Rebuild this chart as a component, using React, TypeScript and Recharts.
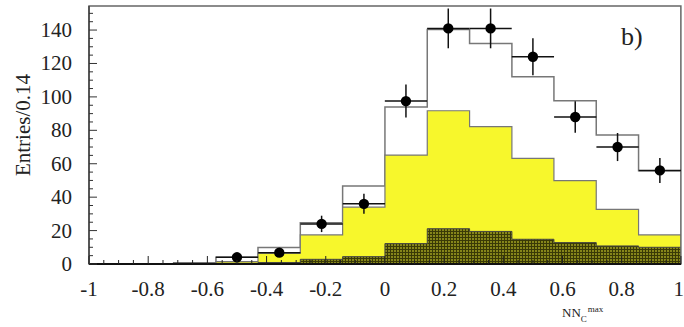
import { ComposedChart, Area, Scatter, ErrorBar, XAxis, YAxis, ReferenceArea } from "recharts";

// bin edges, width 2/14 = 0.143
const binEdges = [-1, -0.857, -0.714, -0.571, -0.429, -0.286, -0.143, 0, 0.143, 0.286, 0.429, 0.571, 0.714, 0.857, 1];
const totalMC = [0, 0, 0.8, 4.0, 9.8, 24.7, 46.7, 94, 140.4, 132, 112, 97.7, 77.2, 55.8];
const yellowMC = [0, 0, 0.4, 1.4, 6.5, 17.4, 34, 65.2, 91.7, 82.2, 63.2, 49.9, 32.7, 17.4];
const darkMC = [0, 0, 0.2, 0.4, 0.9, 2.8, 4.4, 12.2, 21.1, 19.5, 14.8, 12.8, 10.8, 10];

// data points
const dataX = [-0.5, -0.357, -0.214, -0.071, 0.071, 0.214, 0.357, 0.5, 0.643, 0.786, 0.929];
const dataY = [4, 6.8, 24, 36, 97.5, 141, 141, 124, 88, 70, 56];
const dataErrY = [2, 2.6, 4.9, 6, 9.9, 11.9, 11.9, 11.1, 9.4, 8.4, 7.5];
const dataErrX = [0.0714, 0.0714, 0.0714, 0.0714, 0.0714, 0.0714, 0.0714, 0.0714, 0.0714, 0.0714, 0.0714];

const xMajorLabels = ["-1", "-0.8", "-0.6", "-0.4", "-0.2", "0", "0.2", "0.4", "0.6", "0.8", "1"];
const yMajorLabels = ["0", "20", "40", "60", "80", "100", "120", "140"];

const Y_MAX = 154.4;
const FONT = "'Liberation Serif', 'Times New Roman', serif";

const xTicks = Array.from({ length: 41 }, (_, i) => +(-1 + i * 0.05).toFixed(2));
const yTicks = Array.from({ length: 31 }, (_, i) => i * 5);

const histData = binEdges.map((x, i) => {
  const k = Math.min(i, totalMC.length - 1);
  return { x, total: totalMC[k], yellow: yellowMC[k], dark: darkMC[k] };
});

const points = dataX.map((x, i) => ({ x, y: dataY[i], ey: dataErrY[i], ex: dataErrX[i] }));

function XTick(props: any) {
  const { x, y, payload } = props;
  const v = payload.value;
  const idx = Math.round((v + 1) * 5);
  const major = Math.abs((v + 1) * 5 - idx) < 1e-6;
  const last = idx === xMajorLabels.length - 1;
  return (
    <g>
      <line x1={x} x2={x} y1={y} y2={y - (major ? 8 : 4)} stroke="#222" strokeWidth={1} />
      {major && (
        <text x={last ? x + 3 : x} y={y + 32} textAnchor={last ? "end" : "middle"} fontFamily={FONT} fontSize={21} fill="#222">
          {xMajorLabels[idx]}
        </text>
      )}
    </g>
  );
}

function YTick(props: any) {
  const { x, y, payload } = props;
  const v = payload.value;
  const major = v % 20 === 0;
  return (
    <g>
      <line x1={x} x2={x + (major ? 8 : 4)} y1={y} y2={y} stroke="#333" strokeWidth={1} />
      {major && (
        <text x={x - 17} y={y + 7} textAnchor="end" fontFamily={FONT} fontSize={21} fill="#222">
          {yMajorLabels[v / 20]}
        </text>
      )}
    </g>
  );
}

export default function App() {
  return (
    <div style={{ position: "absolute", left: 0, top: 0, width: 684, height: 327, background: "#fff" }}>
      <ComposedChart width={684} height={327} data={histData} margin={{ top: 6, right: 3, bottom: 62, left: 88 }}>
        <defs>
          <pattern id="hatch" width="3" height="3" patternUnits="userSpaceOnUse">
            <rect width="3" height="3" fill="#86861a" />
            <path d="M0 0.5H3M0.5 0V3" stroke="#3a3a06" strokeWidth="1" />
          </pattern>
        </defs>
        <XAxis
          type="number"
          dataKey="x"
          domain={[-1, 1]}
          ticks={xTicks}
          interval={0}
          height={1}
          tickSize={0}
          tickMargin={0}
          tickLine={false}
          tick={XTick}
          axisLine={{ stroke: "#111", strokeWidth: 2 }}
        />
        <YAxis
          type="number"
          domain={[0, Y_MAX]}
          ticks={yTicks}
          interval={0}
          width={1}
          tickSize={0}
          tickMargin={0}
          tickLine={false}
          tick={YTick}
          allowDataOverflow
          axisLine={{ stroke: "#444", strokeWidth: 1.5 }}
        />
        <Area type="stepAfter" dataKey="total" fill="#fff" fillOpacity={1} stroke="#777" strokeWidth={1.5} isAnimationActive={false} dot={false} activeDot={false} />
        <Area type="stepAfter" dataKey="yellow" fill="#f7f72c" fillOpacity={1} stroke="#777" strokeWidth={1.2} isAnimationActive={false} dot={false} activeDot={false} />
        <Area type="stepAfter" dataKey="dark" fill="url(#hatch)" fillOpacity={1} stroke="#444" strokeWidth={1} isAnimationActive={false} dot={false} activeDot={false} />
        <ReferenceArea x1={-1} x2={1} y1={0} y2={Y_MAX} fill="none" stroke="#666" strokeWidth={1.5} ifOverflow="visible" />
        <Scatter
          data={points}
          dataKey="y"
          isAnimationActive={false}
          shape={(p: any) => <circle cx={p.cx} cy={p.cy} r={5.2} fill="#000" />}
        >
          <ErrorBar dataKey="ey" direction="y" width={0} stroke="#111" strokeWidth={1.5} />
          <ErrorBar dataKey="ex" direction="x" width={0} stroke="#111" strokeWidth={1.5} />
        </Scatter>
      </ComposedChart>
      <div
        style={{
          position: "absolute",
          left: 23,
          top: 125,
          transform: "translate(-50%, -50%) rotate(-90deg)",
          whiteSpace: "nowrap",
          fontFamily: FONT,
          fontSize: 21,
          color: "#222",
        }}
      >
        Entries/0.14
      </div>
      <div style={{ position: "absolute", left: 621, top: 22, fontFamily: FONT, fontSize: 26, color: "#222", lineHeight: "30px" }}>
        b)
      </div>
      <div style={{ position: "absolute", left: 562, top: 305, fontFamily: FONT, fontSize: 13, color: "#222", lineHeight: "16px", whiteSpace: "nowrap" }}>
        NN
        <span style={{ position: "relative" }}>
          <span style={{ fontSize: 9, position: "relative", top: 5 }}>C</span>
          <span style={{ fontSize: 9, position: "relative", top: -5, left: 1 }}>max</span>
        </span>
      </div>
    </div>
  );
}
